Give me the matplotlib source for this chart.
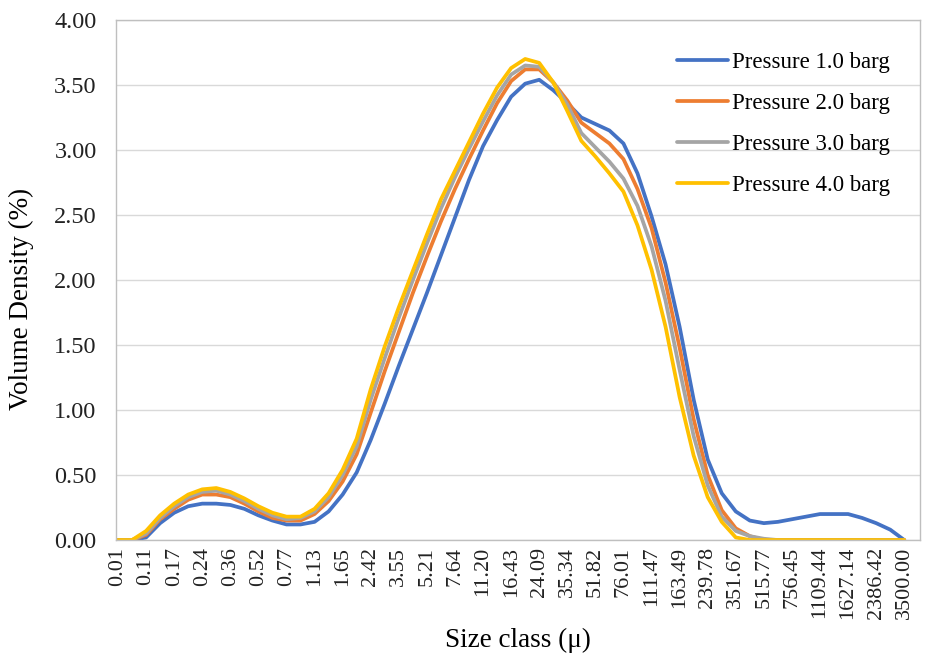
import numpy as np
import matplotlib
matplotlib.use('Agg')
import matplotlib.pyplot as plt

plt.rcParams['font.family'] = ['Liberation Serif', 'DejaVu Serif']

# size class labels (every second point carries a label)
size_labels = ['0.01', '0.11', '0.17', '0.24', '0.36', '0.52', '0.77', '1.13', '1.65', '2.42',
               '3.55', '5.21', '7.64', '11.20', '16.43', '24.09', '35.34', '51.82', '76.01',
               '111.47', '163.49', '239.78', '351.67', '515.77', '756.45', '1109.44',
               '1627.14', '2386.42', '3500.00']

# volume density (%), 57 points (labelled classes + midpoints)
p1 = [0, 0, 0.02, 0.13, 0.21, 0.26, 0.28, 0.28, 0.27, 0.24, 0.19, 0.15, 0.12, 0.12, 0.14,
      0.22, 0.35, 0.52, 0.77, 1.05, 1.34, 1.62, 1.90, 2.19, 2.48, 2.77, 3.03, 3.23, 3.41,
      3.51, 3.54, 3.46, 3.36, 3.25, 3.20, 3.15, 3.05, 2.82, 2.49, 2.12, 1.64, 1.08, 0.62,
      0.36, 0.22, 0.15, 0.13, 0.14, 0.16, 0.18, 0.20, 0.20, 0.20, 0.17, 0.13, 0.08, 0]
p2 = [0, 0, 0.04, 0.16, 0.24, 0.31, 0.35, 0.35, 0.33, 0.28, 0.22, 0.17, 0.15, 0.15, 0.20,
      0.30, 0.45, 0.66, 0.98, 1.30, 1.60, 1.90, 2.18, 2.45, 2.70, 2.93, 3.15, 3.36, 3.53,
      3.62, 3.62, 3.52, 3.38, 3.21, 3.13, 3.05, 2.93, 2.70, 2.40, 1.98, 1.48, 0.93, 0.50,
      0.23, 0.09, 0.03, 0, 0, 0, 0, 0, 0, 0, 0, 0, 0, 0]
p3 = [0, 0, 0.05, 0.17, 0.26, 0.33, 0.37, 0.38, 0.35, 0.30, 0.24, 0.19, 0.16, 0.17, 0.22,
      0.33, 0.50, 0.72, 1.08, 1.40, 1.71, 2.00, 2.28, 2.55, 2.79, 3.01, 3.22, 3.42, 3.58,
      3.65, 3.64, 3.52, 3.35, 3.13, 3.02, 2.91, 2.78, 2.57, 2.26, 1.84, 1.31, 0.80, 0.42,
      0.18, 0.07, 0.03, 0.01, 0, 0, 0, 0, 0, 0, 0, 0, 0, 0]
p4 = [0, 0, 0.07, 0.19, 0.28, 0.35, 0.39, 0.40, 0.37, 0.32, 0.26, 0.21, 0.18, 0.18, 0.24,
      0.36, 0.54, 0.78, 1.16, 1.49, 1.79, 2.07, 2.35, 2.62, 2.84, 3.06, 3.28, 3.48, 3.63,
      3.70, 3.67, 3.52, 3.30, 3.07, 2.95, 2.82, 2.68, 2.42, 2.08, 1.64, 1.10, 0.65, 0.33,
      0.14, 0.02, 0, 0, 0, 0, 0, 0, 0, 0, 0, 0, 0, 0]

series = {
    'Pressure 1.0 barg': (p1, '#4472C4'),
    'Pressure 2.0 barg': (p2, '#ED7D31'),
    'Pressure 3.0 barg': (p3, '#A5A5A5'),
    'Pressure 4.0 barg': (p4, '#FFC000'),
}

x = np.arange(len(p1))

fig = plt.figure(figsize=(9.29, 6.57), dpi=100)
ax = fig.add_axes([0.1249, 0.178, 0.8651, 0.7916])

for name, (vals, col) in series.items():
    ax.plot(x, vals, color=col, lw=2.7, label=name, solid_capstyle='round',
            solid_joinstyle='round')

ax.set_ylim(0, 4)
ax.set_yticks(np.arange(0, 4.01, 0.5))
ax.set_yticklabels([f'{v:.2f}' for v in np.arange(0, 4.01, 0.5)])
ax.set_xlim(-0.14, 57.1)
ax.set_xticks(np.arange(0, len(p1), 2))
ax.set_xticklabels(size_labels, rotation=90)
ax.tick_params(axis='y', length=0, labelsize=17.5, colors='#222222', pad=14)
ax.tick_params(axis='x', length=0, labelsize=16, colors='#222222', pad=5)

ax.grid(axis='y', color='#D9D9D9', lw=1)
ax.set_axisbelow(True)
for s in ax.spines.values():
    s.set_color('#BFBFBF')
    s.set_linewidth(1)

ax.set_xlabel('Size class (\u03bc)', fontsize=19.5, labelpad=6)
ax.set_ylabel('Volume Density (%)', fontsize=19.5)
ax.yaxis.set_label_coords(-0.102, 0.463)

ax.legend(loc='upper right', bbox_to_anchor=(0.989, 0.979), frameon=False,
          fontsize=16.5, handlelength=2.2, handletextpad=0.2, labelspacing=0.88)

fig.savefig('out.png', dpi=100)
